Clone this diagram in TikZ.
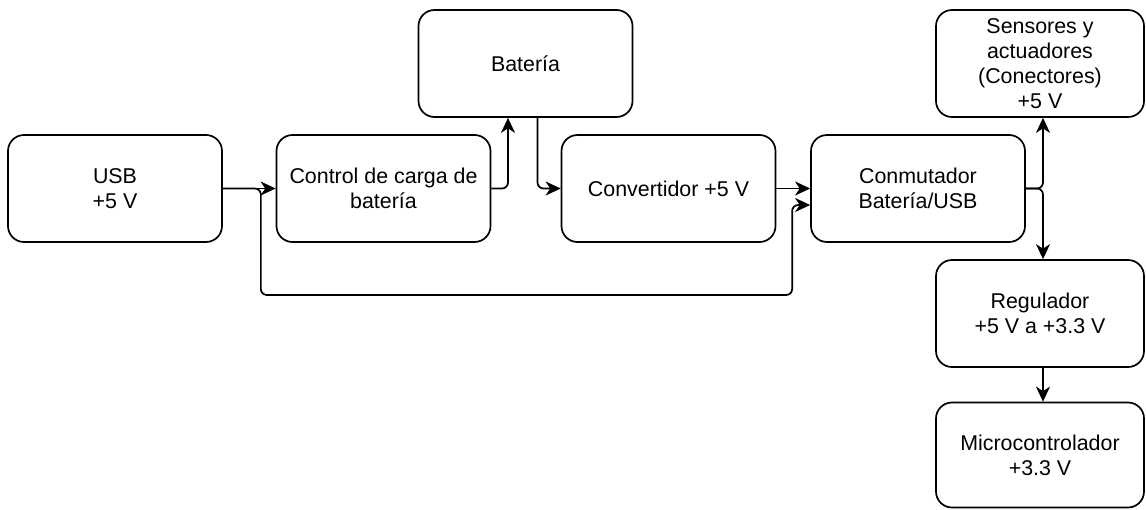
\documentclass[tikz,border=0pt]{standalone}
\usepackage{fontspec}
\setmainfont{Liberation Sans}
\usetikzlibrary{arrows.meta,calc}
\begin{document}
\begin{tikzpicture}[x=1pt,y=-1pt,
  box/.style={draw, line width=1.7pt, rounded corners=16pt, minimum width=214pt, minimum height=107pt, align=center, inner sep=0pt, font=\fontsize{21.4}{25}\selectfont},
  rbox/.style={box, minimum width=208pt},
  conn/.style={line width=1.7pt, rounded corners=6pt, -{Stealth[length=15pt,width=14pt,inset=4.5pt]}}
]
\useasboundingbox (0,0) rectangle (1146,509);
\node[box] (usb) at (115,188.5) {USB\\+5 V};
\node[box] (ctrl) at (383.5,188.5) {Control de carga de\\batería};
\node[box] (bat) at (525.5,63.5) {Batería};
\node[box] (conv) at (668.5,188.5) {Convertidor +5 V};
\node[box] (conm) at (918,188.5) {Conmutador\\Batería/USB};
\node[rbox] (sens) at (1040,63.5) {Sensores y\\actuadores\\(Conectores)\\+5 V};
\node[rbox] (reg) at (1040,313.5) {Regulador\\+5 V a +3.3 V};
\node[rbox, minimum height=105pt] (micro) at (1040,455) {Microcontrolador\\+3.3 V};

\draw[conn] (usb.east) -- (ctrl.west);
\draw[conn] (ctrl.east) -| ([xshift=-17.5pt]bat.south);
\draw[conn] ([xshift=12pt]bat.south) |- (conv.west);
\draw[conn] (conv.east) -- (conm.west);
\draw[conn] (usb.east) -- ++(38,0) |- ($(conm.west)+(-18,106.5)$) -- ($(conm.west)+(-18,16.5)$) -- ($(conm.west)+(0,16.5)$);
\draw[conn] (conm.east) -| ([xshift=3pt]sens.south);
\draw[conn] (conm.east) -| ([xshift=3pt]reg.north);
\draw[conn] ([xshift=3pt]reg.south) -- ([xshift=3pt]micro.north);
\end{tikzpicture}
\end{document}
